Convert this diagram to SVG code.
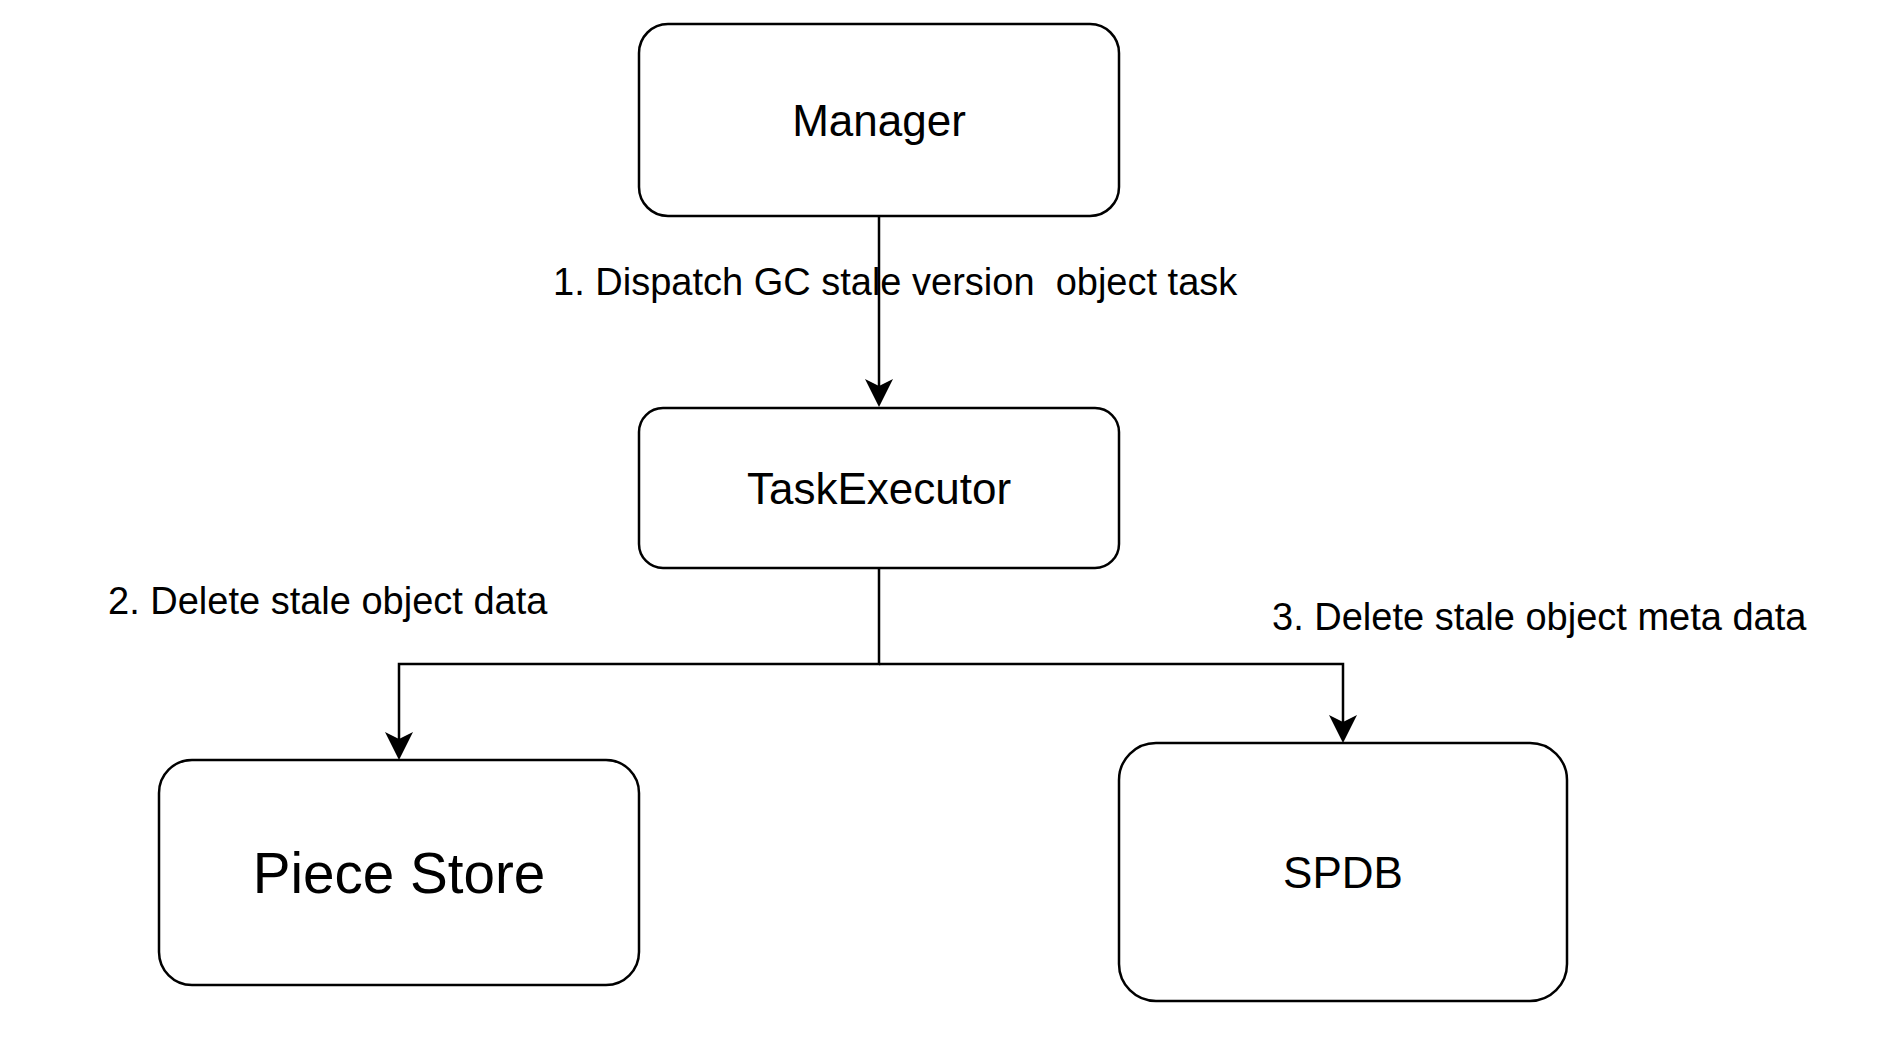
<svg xmlns="http://www.w3.org/2000/svg" width="1904" height="1042" viewBox="0 0 1904 1042">
  <style>
    .box { fill: #ffffff; stroke: #000000; stroke-width: 2.5; }
    .lbl { font-family: "Liberation Sans", Arial, Helvetica, sans-serif; fill: #000000; text-anchor: middle; }
    .node { font-size: 44px; }
    .big { font-size: 56.6px; }
    .edge-lbl { font-family: "Liberation Sans", Arial, Helvetica, sans-serif; font-size: 38px; fill: #000000; white-space: pre; }
    .conn { fill: none; stroke: #000000; stroke-width: 2.5; }
  </style>
  <defs>
    <marker id="arrow" markerUnits="userSpaceOnUse" markerWidth="28" markerHeight="28" viewBox="0 0 28 28" refX="21" refY="14" orient="auto">
      <path d="M28,14 L0,0 L7,14 L0,28 Z" fill="#000000"/>
    </marker>
  </defs>
  <rect x="0" y="0" width="1904" height="1042" fill="#ffffff"/>

  <g id="connectors">
    <path class="conn" d="M879,216 L879,400" marker-end="url(#arrow)"/>
    <path class="conn" d="M879,568 L879,664 L399,664 L399,753" marker-end="url(#arrow)"/>
    <path class="conn" d="M879,664 L1343,664 L1343,736" marker-end="url(#arrow)"/>
  </g>

  <g id="edge-labels">
    <text class="edge-lbl" x="553" y="295" xml:space="preserve">1. Dispatch GC stale version  object task</text>
    <text class="edge-lbl" x="108" y="614">2. Delete stale object data</text>
    <text class="edge-lbl" x="1272" y="630">3. Delete stale object meta data</text>
  </g>

  <g id="manager">
    <rect class="box" x="639" y="24" width="480" height="192" rx="29" ry="29"/>
    <text class="lbl node" x="879" y="136">Manager</text>
  </g>

  <g id="task-executor">
    <rect class="box" x="639" y="408" width="480" height="160" rx="24" ry="24"/>
    <text class="lbl node" x="879" y="504">TaskExecutor</text>
  </g>

  <g id="piece-store">
    <rect class="box" x="159" y="760" width="480" height="225" rx="33" ry="33"/>
    <text class="lbl big" x="399" y="893">Piece Store</text>
  </g>

  <g id="spdb">
    <rect class="box" x="1119" y="743" width="448" height="258" rx="37" ry="37"/>
    <text class="lbl node" x="1343" y="888">SPDB</text>
  </g>
</svg>
